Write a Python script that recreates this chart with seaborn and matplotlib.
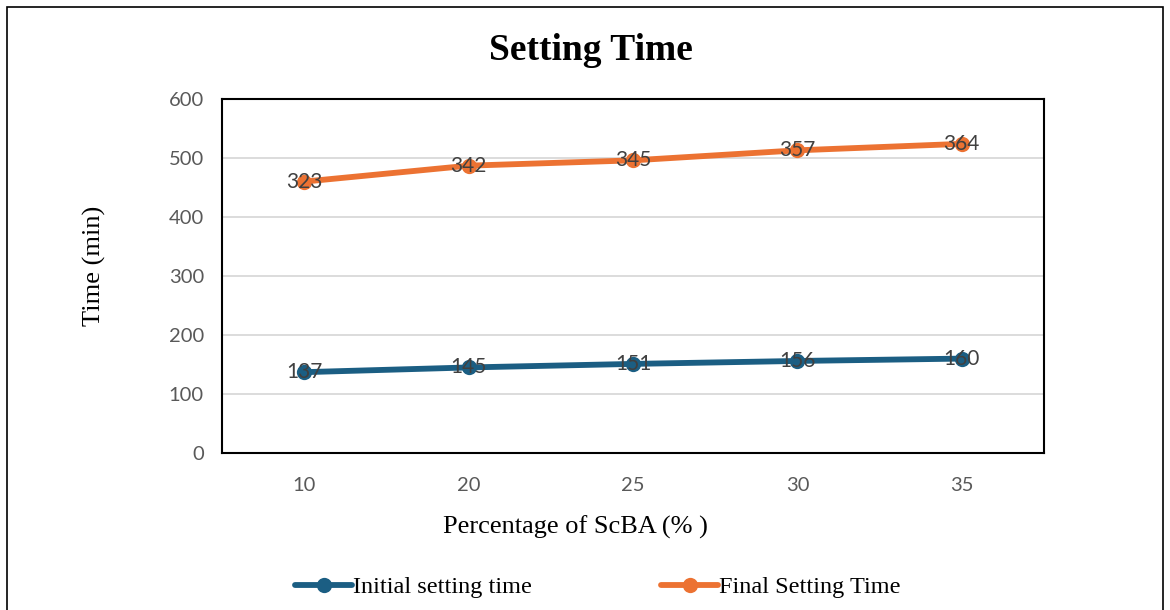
import matplotlib
matplotlib.use("Agg")
import matplotlib.pyplot as plt
import seaborn as sns
import pandas as pd
from matplotlib.lines import Line2D
from matplotlib.patches import Rectangle

# ---- data ----
categories = ["10", "20", "25", "30", "35"]
initial_setting = [137, 145, 151, 156, 160]
final_setting = [323, 342, 345, 357, 364]
series_names = ["Initial setting time", "Final Setting Time"]
y_ticks = [0, 100, 200, 300, 400, 500, 600]

# stacked line (as in the source chart): second series drawn on top of first
final_stacked = [a + b for a, b in zip(initial_setting, final_setting)]

df = pd.DataFrame({
    "x": categories * 2,
    "y": initial_setting + final_stacked,
    "label": initial_setting + final_setting,
    "series": [series_names[0]] * 5 + [series_names[1]] * 5,
})

sns.set_theme(style="white")
serif = ["Liberation Serif", "DejaVu Serif"]
sans = ["Lato", "DejaVu Sans"]
plt.rcParams["font.family"] = sans

colors = {series_names[0]: "#1B5E83", series_names[1]: "#EC7232"}

fig = plt.figure(figsize=(11.7, 6.1), dpi=100)
ax = fig.add_axes([222 / 1170, 1 - 453 / 610, (1044 - 222) / 1170, (453 - 99) / 610])

sns.lineplot(data=df, x="x", y="y", hue="series", palette=colors, marker="o",
             markersize=11, markeredgewidth=0, linewidth=4.2, sort=False,
             legend=False, ax=ax, zorder=3)

for _, r in df.iterrows():
    ax.text(categories.index(r["x"]), r["y"], f"{r['label']}", ha="center", va="center",
            fontsize=15, color="#404040", zorder=4, family=sans)

ax.set_xlim(-0.5, len(categories) - 0.5)
ax.set_ylim(0, 600)
ax.set_yticks(y_ticks)
ax.yaxis.grid(True, color="#D9D9D9", linewidth=1.3)
ax.set_axisbelow(True)
for s in ax.spines.values():
    s.set_color("black")
    s.set_linewidth(1.5)
ax.tick_params(axis="both", length=0, labelsize=14.5, labelcolor="#595959")
ax.tick_params(axis="x", pad=17)
ax.tick_params(axis="y", pad=13)
ax.set_xlabel("Percentage of ScBA (% )", fontsize=19, family=serif, color="black")
ax.set_ylabel("Time (min)", fontsize=19, family=serif, color="black")
ax.xaxis.set_label_coords((575 - 222) / 822, -(527 - 453) / 354)
ax.yaxis.set_label_coords(-(222 - 94) / 822, (453 - 266) / 354)
ax.xaxis.label.set_va("center")
ax.yaxis.label.set_va("center")

fig.text(591 / 1170, 1 - 50 / 610, "Setting Time", ha="center", va="center",
         fontsize=27, fontweight="bold", family=serif, color="black")

handles = [Line2D([0], [0], color=colors[n], lw=4.2, marker="o", markersize=11,
                  markeredgewidth=0) for n in series_names]
leg = fig.legend(handles, series_names, loc="center", ncol=2,
                 bbox_to_anchor=(598 / 1170, 1 - 587 / 610), frameon=False,
                 prop={"family": serif, "size": 17.5}, handlelength=2.35,
                 handletextpad=0.05, columnspacing=5.3)
for t in leg.get_texts():
    t.set_color("black")

fig.patches.append(Rectangle((7 / 1170, -0.05), (1163 - 7) / 1170, 1.05 - 7 / 610,
                             transform=fig.transFigure, fill=False,
                             edgecolor="black", linewidth=1.2))

fig.savefig("out.png", dpi=100, facecolor="white")
